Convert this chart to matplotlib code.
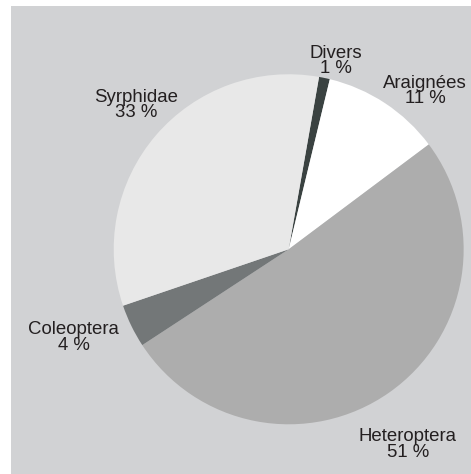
import matplotlib
matplotlib.use("Agg")
import matplotlib.pyplot as plt

# data
groupes = ["Divers", "Araignées", "Heteroptera", "Coleoptera", "Syrphidae"]
pourcents = [1, 11, 51, 4, 33]
couleurs = ["#3a4241", "#ffffff", "#adadad", "#737778", "#e8e8e8"]

# label centres, in pie units (radius = 1)
label_pos = [(0.27, 1.075), (0.78, 0.905), (0.68, -1.115), (-1.23, -0.505), (-0.87, 0.825)]

plt.rcParams['font.family'] = ['Liberation Sans', 'DejaVu Sans']

fig = plt.figure(figsize=(4.71, 4.74), dpi=100, facecolor="white")
ax = fig.add_axes([11 / 471, 0, 460 / 471, 468 / 474])
ax.set_facecolor("#d1d2d4")

ax.pie(pourcents, colors=couleurs, startangle=80, counterclock=False,
       radius=1, center=(0, 0), frame=True,
       wedgeprops=dict(linewidth=0))

for nom, val, (x, y) in zip(groupes, pourcents, label_pos):
    ax.text(x, y, f"{nom}\n{val} %", ha="center", va="center",
            fontsize=13.4, color="#231f20", linespacing=0.88)

ax.set_xlim(-1.587, 1.042)
ax.set_ylim(-1.284, 1.390)
ax.set_aspect("auto")
ax.set_xticks([])
ax.set_yticks([])
for s in ax.spines.values():
    s.set_visible(False)

fig.savefig("out.png", dpi=100, facecolor="white")
